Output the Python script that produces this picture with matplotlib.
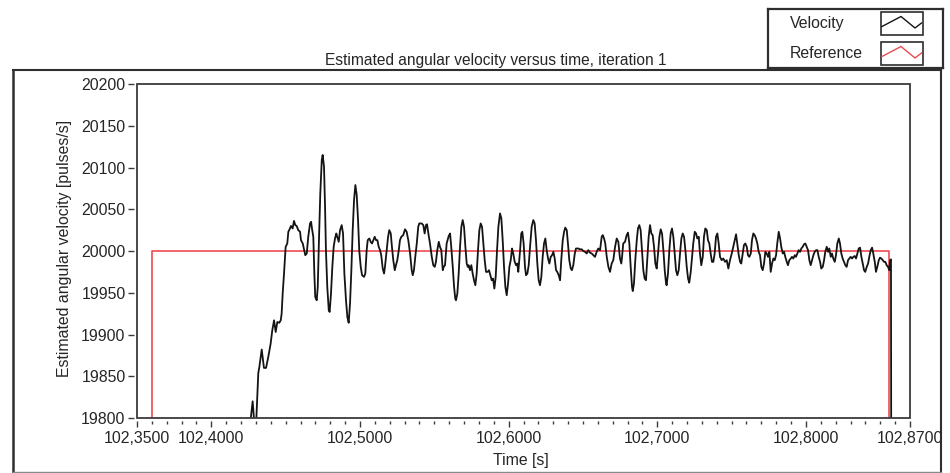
import numpy as np
import matplotlib
matplotlib.use("Agg")
import matplotlib.pyplot as plt
from matplotlib.lines import Line2D
from matplotlib.patches import Rectangle
from matplotlib.ticker import FixedLocator, FuncFormatter

plt.rcParams['font.family'] = ['Liberation Sans', 'DejaVu Sans']

                                # Measured velocity (pulses/s)
#---------------------------------------------------------------------------------------------------
time_s = [
    102.4247, 102.4278, 102.4297, 102.4316, 102.4323, 102.4339, 102.4354, 102.4368, 102.4383, 102.4399,
    102.4410, 102.4422, 102.4433, 102.4444, 102.4457, 102.4467, 102.4473, 102.4480, 102.4489, 102.4500,
    102.4511, 102.4518, 102.4529, 102.4536, 102.4547, 102.4556, 102.4565, 102.4574, 102.4585, 102.4597,
    102.4603, 102.4615, 102.4625, 102.4632, 102.4642, 102.4652, 102.4664, 102.4671, 102.4677, 102.4686,
    102.4693, 102.4699, 102.4709, 102.4716, 102.4724, 102.4733, 102.4743, 102.4749, 102.4758, 102.4765,
    102.4771, 102.4780, 102.4790, 102.4796, 102.4805, 102.4814, 102.4823, 102.4832, 102.4841, 102.4847,
    102.4857, 102.4866, 102.4877, 102.4886, 102.4895, 102.4906, 102.4915, 102.4924, 102.4933, 102.4942,
    102.4951, 102.4960, 102.4969, 102.4978, 102.4987, 102.4995, 102.5005, 102.5014, 102.5027, 102.5036,
    102.5045, 102.5052, 102.5063, 102.5072, 102.5081, 102.5090, 102.5099, 102.5108, 102.5117, 102.5126,
    102.5135, 102.5143, 102.5153, 102.5162, 102.5168, 102.5180, 102.5189, 102.5197, 102.5207, 102.5215,
    102.5224, 102.5234, 102.5242, 102.5251, 102.5261, 102.5269, 102.5278, 102.5291, 102.5303, 102.5314,
    102.5325, 102.5337, 102.5348, 102.5355, 102.5363, 102.5372, 102.5382, 102.5392, 102.5399, 102.5415,
    102.5426, 102.5435, 102.5444, 102.5451, 102.5460, 102.5471, 102.5483, 102.5493, 102.5503, 102.5511,
    102.5520, 102.5530, 102.5538, 102.5547, 102.5557, 102.5563, 102.5572, 102.5583, 102.5597, 102.5606,
    102.5614, 102.5624, 102.5633, 102.5641, 102.5646, 102.5655, 102.5664, 102.5673, 102.5682, 102.5691,
    102.5700, 102.5709, 102.5718, 102.5725, 102.5731, 102.5740, 102.5749, 102.5758, 102.5767, 102.5776,
    102.5785, 102.5794, 102.5803, 102.5812, 102.5821, 102.5830, 102.5839, 102.5848, 102.5859, 102.5868,
    102.5877, 102.5886, 102.5895, 102.5904, 102.5913, 102.5922, 102.5931, 102.5942, 102.5951, 102.5960,
    102.5969, 102.5978, 102.5987, 102.5996, 102.6005, 102.6014, 102.6023, 102.6031, 102.6041, 102.6050,
    102.6058, 102.6065, 102.6077, 102.6085, 102.6092, 102.6101, 102.6110, 102.6117, 102.6126, 102.6135,
    102.6144, 102.6155, 102.6166, 102.6175, 102.6184, 102.6193, 102.6202, 102.6211, 102.6220, 102.6229,
    102.6238, 102.6247, 102.6256, 102.6265, 102.6274, 102.6283, 102.6292, 102.6301, 102.6310, 102.6319,
    102.6327, 102.6337, 102.6346, 102.6354, 102.6364, 102.6373, 102.6381, 102.6391, 102.6399, 102.6408,
    102.6418, 102.6426, 102.6435, 102.6445, 102.6453, 102.6469, 102.6480, 102.6492, 102.6502, 102.6514,
    102.6525, 102.6536, 102.6547, 102.6559, 102.6570, 102.6581, 102.6592, 102.6603, 102.6615, 102.6626,
    102.6633, 102.6642, 102.6650, 102.6660, 102.6671, 102.6682, 102.6693, 102.6704, 102.6716, 102.6727,
    102.6738, 102.6749, 102.6758, 102.6763, 102.6771, 102.6783, 102.6794, 102.6803, 102.6812, 102.6821,
    102.6830, 102.6835, 102.6843, 102.6852, 102.6862, 102.6870, 102.6879, 102.6888, 102.6897, 102.6906,
    102.6915, 102.6924, 102.6933, 102.6942, 102.6951, 102.6960, 102.6969, 102.6978, 102.6987, 102.6996,
    102.7005, 102.7014, 102.7023, 102.7032, 102.7041, 102.7050, 102.7059, 102.7063, 102.7072, 102.7081,
    102.7090, 102.7099, 102.7108, 102.7117, 102.7126, 102.7135, 102.7144, 102.7153, 102.7162, 102.7171,
    102.7180, 102.7189, 102.7198, 102.7207, 102.7215, 102.7225, 102.7234, 102.7242, 102.7252, 102.7261,
    102.7269, 102.7279, 102.7287, 102.7296, 102.7306, 102.7314, 102.7323, 102.7333, 102.7341, 102.7350,
    102.7359, 102.7368, 102.7377, 102.7386, 102.7395, 102.7404, 102.7413, 102.7422, 102.7433, 102.7444,
    102.7456, 102.7467, 102.7478, 102.7489, 102.7501, 102.7511, 102.7523, 102.7530, 102.7538, 102.7548,
    102.7557, 102.7565, 102.7575, 102.7583, 102.7592, 102.7602, 102.7610, 102.7619, 102.7629, 102.7637,
    102.7646, 102.7655, 102.7664, 102.7673, 102.7682, 102.7691, 102.7700, 102.7709, 102.7718, 102.7727,
    102.7736, 102.7745, 102.7754, 102.7763, 102.7772, 102.7781, 102.7790, 102.7799, 102.7807, 102.7817,
    102.7826, 102.7834, 102.7844, 102.7853, 102.7861, 102.7871, 102.7879, 102.7888, 102.7898, 102.7906,
    102.7915, 102.7925, 102.7933, 102.7942, 102.7951, 102.7960, 102.7969, 102.7978, 102.7987, 102.7996,
    102.8005, 102.8014, 102.8023, 102.8032, 102.8041, 102.8050, 102.8059, 102.8068, 102.8077, 102.8086,
    102.8095, 102.8103, 102.8113, 102.8122, 102.8130, 102.8140, 102.8149, 102.8157, 102.8167, 102.8175,
    102.8184, 102.8194, 102.8202, 102.8211, 102.8221, 102.8229, 102.8238, 102.8247, 102.8256, 102.8265,
    102.8274, 102.8283, 102.8292, 102.8301, 102.8310, 102.8319, 102.8328, 102.8337, 102.8346, 102.8355,
    102.8364, 102.8373, 102.8382, 102.8391, 102.8399, 102.8409, 102.8418, 102.8426, 102.8436, 102.8445,
    102.8453, 102.8463, 102.8471, 102.8480, 102.8490, 102.8498, 102.8507, 102.8517, 102.8525, 102.8534,
    102.8543, 102.8552, 102.8561, 102.8566, 102.8572, 102.8574,
]

velocity = [
    19770, 19820, 19775, 19854, 19861, 19882, 19860, 19860, 19873, 19889,
    19905, 19917, 19903, 19915, 19914, 19917, 19925, 19949, 19973, 20005,
    20009, 20023, 20027, 20030, 20027, 20036, 20031, 20030, 20025, 20023,
    20013, 20009, 20001, 19995, 19997, 20017, 20033, 20035, 20027, 20017,
    19973, 19945, 19941, 19957, 20013, 20069, 20109, 20115, 20101, 20053,
    20001, 19957, 19929, 19927, 19949, 19981, 20005, 20015, 20021, 20017,
    20011, 20025, 20031, 20021, 19973, 19941, 19921, 19914, 19937, 19977,
    20025, 20061, 20079, 20067, 20037, 20001, 19981, 19971, 19969, 19973,
    20001, 20013, 20015, 20011, 20009, 20013, 20017, 20013, 20013, 20005,
    20001, 19995, 19979, 19973, 19981, 20001, 20017, 20025, 20021, 20005,
    19989, 19977, 19983, 19989, 20001, 20013, 20017, 20019, 20026, 20023,
    20013, 19997, 19977, 19971, 19977, 19993, 20009, 20029, 20033, 20033,
    20031, 20021, 20031, 20032, 20021, 20009, 19993, 19983, 19981, 19987,
    20001, 20011, 20005, 20001, 19977, 19981, 19983, 20009, 20018, 20021,
    20005, 19981, 19957, 19943, 19941, 19949, 19973, 20005, 20029, 20037,
    20029, 20005, 19985, 19981, 19983, 19977, 19983, 19973, 19965, 19959,
    19973, 20001, 20025, 20033, 20029, 20009, 19989, 19975, 19975, 19977,
    19971, 19965, 19967, 19955, 19969, 20001, 20029, 20045, 20039, 20013,
    19981, 19957, 19947, 19961, 19981, 19989, 20003, 19997, 19987, 19983,
    19985, 19975, 20001, 20021, 20023, 20009, 19981, 19971, 19973, 19983,
    20005, 20029, 20037, 20033, 20013, 19985, 19965, 19959, 19969, 19993,
    20009, 20015, 20001, 19991, 19985, 19993, 19995, 19999, 19991, 19977,
    19975, 19971, 19965, 19989, 20013, 20023, 20028, 20025, 20009, 19989,
    19979, 19977, 19983, 19997, 20003, 20003, 20002, 20002, 20000, 19999,
    19997, 20001, 19998, 19997, 19995, 19993, 19999, 20003, 20001, 20017,
    20019, 20015, 20009, 19993, 19981, 19975, 19985, 19989, 20005, 20015,
    20011, 19991, 19985, 19993, 20009, 20011, 20019, 20022, 20009, 19981,
    19957, 19952, 19961, 19989, 20013, 20027, 20031, 20025, 20001, 19977,
    19967, 19965, 19991, 20017, 20031, 20021, 20019, 20005, 19985, 19979,
    19997, 20017, 20026, 20021, 20001, 19977, 19961, 19959, 19973, 20001,
    20021, 20027, 20017, 19997, 19977, 19971, 19977, 19997, 20015, 20021,
    20017, 20001, 19981, 19967, 19962, 19975, 19993, 20009, 20023, 20021,
    20015, 20017, 19997, 19983, 19993, 20017, 20027, 20025, 20013, 20009,
    19997, 19987, 19987, 19997, 20017, 20021, 20009, 19993, 19989, 19991,
    19987, 19989, 19979, 19989, 19997, 20005, 20015, 20020, 20009, 19995,
    19987, 19985, 19997, 20007, 20009, 20005, 19995, 19993, 19997, 20013,
    20021, 20019, 20015, 20009, 19999, 19995, 19981, 19977, 19985, 19999,
    19997, 19993, 19999, 19975, 19985, 19991, 19989, 19995, 20009, 20023,
    20015, 20005, 19997, 19999, 19993, 19987, 19983, 19989, 19991, 19993,
    19991, 19995, 19993, 19997, 20001, 19999, 20003, 20005, 20008, 20009,
    20005, 20001, 19989, 19983, 19989, 19995, 19999, 20001, 20001, 19993,
    19987, 19979, 19981, 19989, 19999, 20005, 19999, 20003, 19993, 19997,
    19991, 19987, 19995, 20009, 20015, 20009, 19997, 19991, 19987, 19983,
    19981, 19989, 19991, 19993, 19991, 19993, 19994, 19991, 19997, 20003,
    20004, 19993, 19985, 19977, 19975, 19981, 19985, 19993, 20001, 20004,
    19997, 19987, 19975, 19981, 19989, 19992, 19991, 19989, 19987, 19987,
    19983, 19981, 19977, 19989, 19990, 19700,
]

                                # Reference step (pulses/s)
#---------------------------------------------------------------------------------------------------
ref_time = [102.3599, 102.3599, 102.8559, 102.8559]
ref_velocity = [19700, 20000, 20000, 19700]

x_major = [102.35, 102.40, 102.50, 102.60, 102.70, 102.80, 102.87]
x_minor = [t for t in np.round(np.arange(102.36, 102.865, 0.01), 2) if t not in x_major]
y_ticks = [19800, 19850, 19900, 19950, 20000, 20050, 20100, 20150, 20200]

title = "Estimated angular velocity versus time, iteration 1"
x_label = "Time [s]"
y_label = "Estimated angular velocity [pulses/s]"
legend_names = ["Velocity", "Reference"]

vel_color = '#141414'
ref_color = '#ec4b52'
frame_color = '#3a3a3a'
text_color = '#262626'
W, H = 950, 473

                                    # Setup Figure
#---------------------------------------------------------------------------------------------------
fig = plt.figure(figsize=(W / 100, H / 100), dpi=100)
ax = fig.add_axes([137 / W, 1 - 418 / H, 773 / W, 334 / H])

ax.plot(ref_time, ref_velocity, color=ref_color, lw=1.2, zorder=2)
ax.plot(time_s, velocity, color=vel_color, lw=1.3, zorder=3)

ax.set_xlim(102.35, 102.87)
ax.set_ylim(19800, 20200)

# plot frame drawn as a box, ticks sit a little away from it
for side in ['top', 'right', 'left', 'bottom']:
    ax.spines[side].set_color('none')
ax.spines['left'].set_position(('outward', 2.2))
ax.spines['bottom'].set_position(('outward', 2.2))
ax.add_patch(Rectangle((0, 0), 1, 1, transform=ax.transAxes, fill=False,
                       edgecolor=frame_color, lw=1.3, clip_on=False, zorder=5))

ax.xaxis.set_major_locator(FixedLocator(x_major))
ax.xaxis.set_minor_locator(FixedLocator(x_minor))
ax.xaxis.set_major_formatter(FuncFormatter(lambda v, p: f"{v:.4f}".replace('.', ',')))
ax.yaxis.set_major_locator(FixedLocator(y_ticks))
ax.yaxis.set_major_formatter(FuncFormatter(lambda v, p: f"{v:.0f}"))

ax.tick_params(which='major', direction='out', length=4, width=1.0, color=frame_color,
               labelsize=11.4, labelcolor=text_color, pad=2)
ax.tick_params(which='minor', direction='out', length=2, width=1.0, color=frame_color)
ax.tick_params(axis='x', which='major', pad=3)

                                    # Labels
#---------------------------------------------------------------------------------------------------
fig.text(496 / W, 1 - 60 / H, title, ha='center', va='center', fontsize=11.2, color=text_color)
fig.text(521 / W, 1 - 460 / H, x_label, ha='center', va='center', fontsize=11.4, color=text_color)
fig.text(65 / W, 1 - 248 / H, y_label, ha='center', va='center', rotation=90,
         fontsize=11.4, color=text_color)

                                    # Outer panel frame
#---------------------------------------------------------------------------------------------------
fig.add_artist(Line2D([13 / W, 13 / W], [1 - 472 / H, 1 - 70 / H], color='#2e2e2e', lw=1.8))
fig.add_artist(Line2D([13 / W, 941 / W], [1 - 70 / H, 1 - 70 / H], color='#2e2e2e', lw=1.5))
fig.add_artist(Line2D([941 / W, 941 / W], [1 - 472 / H, 1 - 70 / H], color='#2e2e2e', lw=1.5))
fig.add_artist(Line2D([13 / W, 941 / W], [1 - 471.5 / H, 1 - 471.5 / H], color='#8a8a8a', lw=1.0))

                                    # Legend box
#---------------------------------------------------------------------------------------------------
lax = fig.add_axes([768 / W, 1 - 68 / H, 175 / W, 59 / H])
lax.set_xlim(0, 175)
lax.set_ylim(59, 0)
lax.set_xticks([])
lax.set_yticks([])
for s in lax.spines.values():
    s.set_color('#2e2e2e')
    s.set_linewidth(1.6)

for i, (name, col) in enumerate(zip(legend_names, [vel_color, ref_color])):
    y0 = 3.5 + i * 30
    lax.text(22, y0 + 11, name, ha='left', va='center', fontsize=11.4, color=text_color)
    lax.add_patch(Rectangle((113, y0), 41.5, 22.5, fill=False, edgecolor='#2e2e2e', lw=1.2))
    lax.plot([114, 133, 147, 153.5], [y0 + 14, y0 + 4, y0 + 15.5, y0 + 10.5], color=col, lw=1.0)

fig.savefig("out.png", dpi=100)
